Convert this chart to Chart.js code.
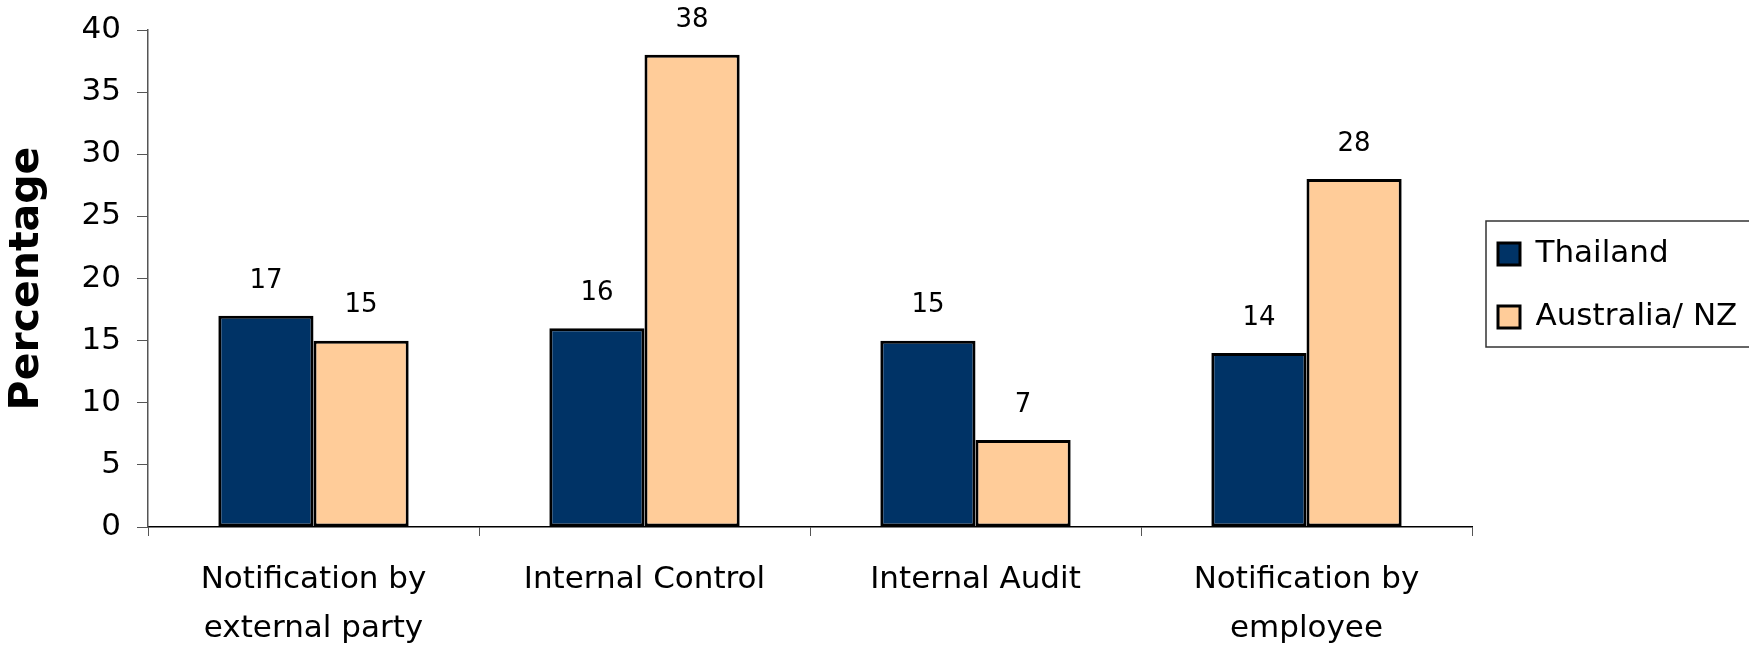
<!DOCTYPE html>
<html><head><meta charset="utf-8">
<script src="https://cdn.jsdelivr.net/npm/chart.js@4/dist/chart.umd.min.js"></script>
<style>html,body{margin:0;padding:0;background:#fff}#wrap{width:1749px;height:648px;position:relative}</style>
</head><body><div id="wrap"><canvas id="c"></canvas></div>
<script>
const categories = [["Notification by","external party"],"Internal Control","Internal Audit",["Notification by","employee"]];
const seriesNames = ["Thailand","Australia/ NZ"];
const thailand = [17,16,15,14];
const australiaNZ = [15,38,7,28];
const yTicks = [0,5,10,15,20,25,30,35,40];
const yTitle = "Percentage";

const FONT = "'DejaVu Sans', sans-serif";

const valueLabels = {
  id: 'valueLabels',
  afterDatasetsDraw(chart) {
    const ctx = chart.ctx;
    ctx.save();
    ctx.font = "26px " + FONT;
    ctx.fillStyle = '#000';
    ctx.textAlign = 'center';
    ctx.textBaseline = 'middle';
    chart.data.datasets.forEach((ds, di) => {
      const meta = chart.getDatasetMeta(di);
      meta.data.forEach((el, i) => {
        ctx.fillText(String(ds.data[i]), el.x, el.y - 35);
      });
    });
    ctx.restore();
  }
};

const legendPlace = {
  id: 'legendPlace',
  afterLayout(chart) {
    const lg = chart.legend;
    if (!lg) return;
    const p = lg.options.labels.padding;
    const ih = Math.max(lg.options.labels.font.size, lg.options.labels.boxHeight);
    const colH = lg.columnSizes && lg.columnSizes[0] ? lg.columnSizes[0].height : 2 * (ih + p);
    const start = ((lg.top + p) + (lg.bottom - colH)) / 2;
    const shift = 254 - (start + ih / 2);
    lg.top += shift; lg.bottom += shift;
    lg.left -= 6; lg.right -= 6;
    chart._legendFirstCenter = 254;
    chart._legendStep = ih + p;
  },
  afterDraw(chart) {
    const c = chart._legendFirstCenter; if (!c) return;
    const ctx = chart.ctx;
    ctx.save();
    ctx.strokeStyle = '#333';
    ctx.lineWidth = 1.5;
    const x0 = chart.chartArea.right + 14;
    const top = c - 33, bottom = c + chart._legendStep + 30;
    ctx.strokeRect(x0, top, chart.width + 10 - x0, bottom - top);
    ctx.restore();
  }
};

new Chart(document.getElementById('c'), {
  type: 'bar',
  data: {
    labels: categories,
    datasets: [
      { label: seriesNames[0], data: thailand, backgroundColor: '#003366', borderColor: '#000', borderWidth: 3, borderSkipped: false },
      { label: seriesNames[1], data: australiaNZ, backgroundColor: '#FFCC99', borderColor: '#000', borderWidth: 3, borderSkipped: false }
    ]
  },
  options: {
    responsive: true,
    maintainAspectRatio: false,
    animation: false,
    datasets: { bar: { categoryPercentage: 0.575, barPercentage: 1.0 } },
    layout: { padding: 0 },
    plugins: {
      legend: {
        position: 'right',
        maxWidth: 277,
        labels: {
          font: { family: FONT, size: 31 },
          color: '#000',
          boxWidth: 22,
          boxHeight: 22,
          padding: 32
        }
      },
      tooltip: { enabled: false }
    },
    scales: {
      x: {
        grid: { display: true, drawOnChartArea: false, offset: true, tickLength: 9, color: '#555' },
        border: { color: '#000', width: 1.5 },
        ticks: { font: { family: FONT, size: 31, lineHeight: 1.58 }, color: '#000', padding: 19, maxRotation: 0, autoSkip: false },
        afterFit(s) { s.height = 121; }
      },
      y: {
        min: 0, max: 40,
        afterBuildTicks(s) { s.ticks = yTicks.map(v => ({ value: v })); },
        grid: { display: true, drawOnChartArea: false, tickLength: 11, color: '#555' },
        border: { color: '#555', width: 1.5 },
        ticks: { font: { family: FONT, size: 31 }, color: '#000', padding: 16 },
        title: { display: true, text: yTitle, font: { family: FONT, size: 41, weight: 'bold' }, color: '#000', padding: { top: 3, bottom: 0 } },
        afterFit(s) { s.width = 148; s.paddingTop = 30; }
      }
    }
  },
  plugins: [valueLabels, legendPlace]
});
</script>
</body></html>
